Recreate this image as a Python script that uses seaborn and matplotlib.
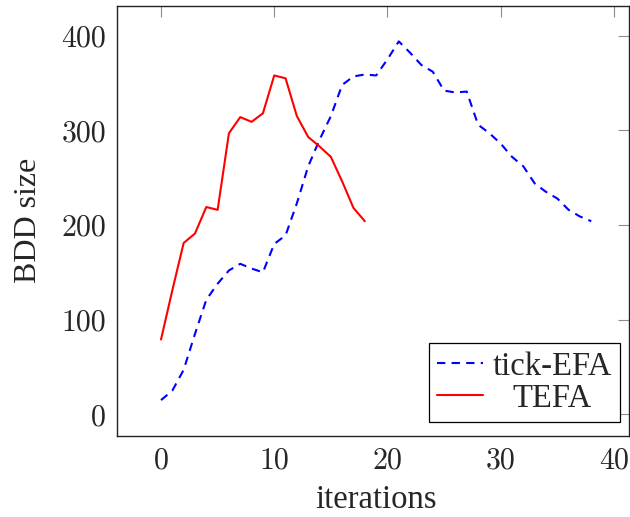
import matplotlib
matplotlib.use("Agg")
import matplotlib.pyplot as plt
import seaborn as sns
import pandas as pd

# ---- data ----
iter_tick = list(range(39))
tick_efa = [15, 25, 47, 85, 121, 138, 152, 159, 154, 150,
            180, 189, 223, 262, 290, 315, 348, 357, 359, 358,
            375, 394, 382, 369, 362, 342, 340, 341, 306, 297,
            286, 272, 262, 244, 235, 228, 216, 209, 204]
iter_tefa = list(range(19))
tefa = [79, 131, 181, 191, 219, 216, 297, 314, 309, 318,
        358, 355, 315, 293, 283, 272, 246, 218, 204]
series_names = ["tick-EFA", "TEFA"]
x_ticks = [0, 10, 20, 30, 40]
y_ticks = [0, 100, 200, 300, 400]

df = pd.concat([
    pd.DataFrame({"iterations": iter_tick, "BDD size": tick_efa, "method": series_names[0]}),
    pd.DataFrame({"iterations": iter_tefa, "BDD size": tefa, "method": series_names[1]}),
], ignore_index=True)

sns.set_style("white")
plt.rcParams["font.family"] = ["Liberation Serif", "DejaVu Serif"]

W, H = 630, 517
fig = plt.figure(figsize=(W / 100, H / 100), dpi=100)
ax = fig.add_axes([117.3 / W, (H - 435.7) / H, (629.2 - 117.3) / W, 430.0 / H])

sns.lineplot(data=df, x="iterations", y="BDD size", hue="method", style="method",
             palette={"tick-EFA": "#0000ff", "TEFA": "#ff0000"},
             dashes={"tick-EFA": (4, 3), "TEFA": ""},
             linewidth=1.5, ax=ax, legend=False)
for ln in ax.lines:
    ln.set_solid_joinstyle("round")
    ln.set_dash_joinstyle("round")

ax.set_xlim(-3.86, 41.35)
ax.set_ylim(-22.6, 431.7)
ax.set_xticks(x_ticks)
ax.set_yticks(y_ticks)
ax.set_xticklabels([str(v) for v in x_ticks], fontfamily="cmr10", fontsize=21.5)
ax.set_yticklabels([str(v) for v in y_ticks], fontfamily="cmr10", fontsize=21.5)
ax.tick_params(direction="in", top=True, right=True, length=8, width=0.8,
               color="#8c8c8c", pad=8)

for s in ax.spines.values():
    s.set_color("#222222")
    s.set_linewidth(1.0)

ax.set_xlabel("iterations", fontsize=23.5, va="baseline")
ax.xaxis.set_label_coords((376 - 117.3) / 511.9, (435.7 - 508) / 430.0)
ax.set_ylabel("BDD size", fontsize=23, va="center", ha="center")
ax.yaxis.set_label_coords((28 - 117.3) / 511.9, 0.5)

from matplotlib.lines import Line2D
handles = [Line2D([], [], color="#0000ff", lw=1.5, dashes=(4, 3)),
           Line2D([], [], color="#ff0000", lw=1.5)]
leg = ax.legend(handles, series_names, loc="lower right",
                bbox_to_anchor=((620 - 117.3) / 511.9, (435.7 - 422) / 430.0),
                borderaxespad=0, fontsize=23.5, frameon=True, fancybox=False,
                edgecolor="black", framealpha=1, handlelength=1.4,
                handletextpad=0.3, labelspacing=0.05, borderpad=0.25)
leg.get_frame().set_linewidth(0.9)

# centre legend texts like pgfplots
fig.canvas.draw()
r = fig.canvas.get_renderer()
texts = leg.get_texts()
widths = [t.get_window_extent(r).width for t in texts]
wmax = max(widths)
for t, w in zip(texts, widths):
    t.set_x((wmax - w) / 2)

fig.savefig("out.png", dpi=100)
